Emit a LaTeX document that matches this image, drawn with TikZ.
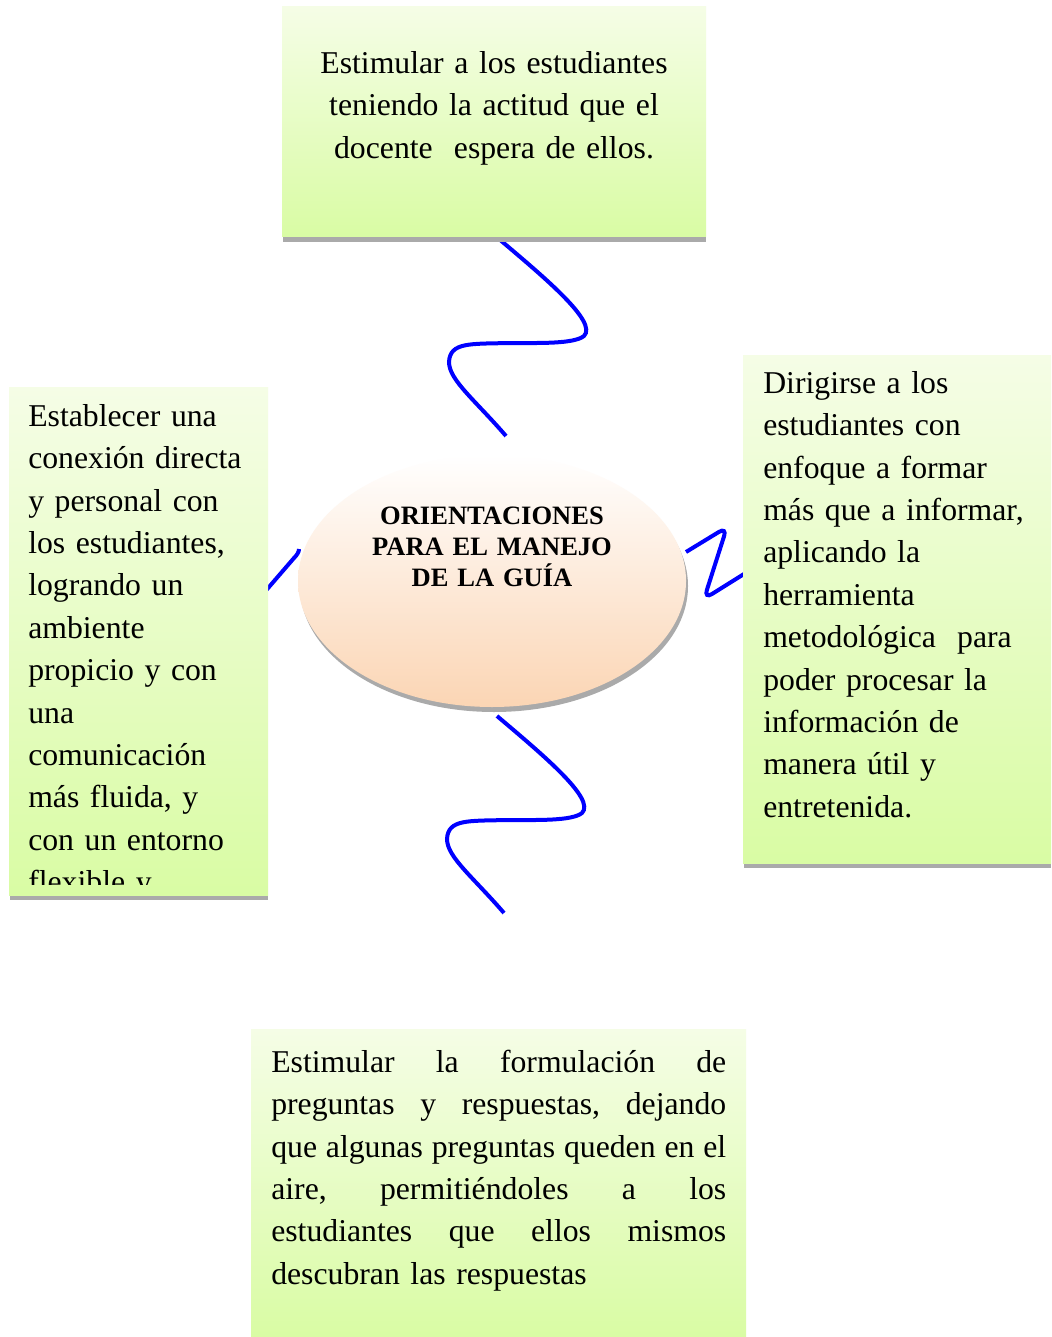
\documentclass[tikz,border=0pt]{standalone}
\usepackage{fontspec}
\setmainfont{Liberation Serif}[WordSpace=0.8]
\usetikzlibrary{shapes.geometric}
\definecolor{boxtop}{RGB}{245,253,230}
\definecolor{boxbot}{RGB}{217,252,164}
\definecolor{elltop}{RGB}{255,255,255}
\definecolor{ellbot}{RGB}{251,213,180}
\definecolor{shadowgray}{RGB}{170,170,170}
\definecolor{connblue}{RGB}{0,0,255}
\tikzset{
  greenbox/.style={rectangle, inner sep=0pt, draw=none, top color=boxtop, bottom color=boxbot},
  bodytext/.style={inner sep=0pt, font=\fontsize{23.8pt}{31.8pt}\selectfont},
  conn/.style={draw=connblue, line width=3pt},
}
\begin{document}
\begin{tikzpicture}[x=0.75pt,y=-0.75pt]
\useasboundingbox (0,0) rectangle (1051,1337);
\fill[white] (0,0) rectangle (1051,1337);

% connector end points
\coordinate (ts) at (499,239);
\coordinate (te) at (506,436);
\coordinate (bs) at (497,716);
\coordinate (be) at (504,913);
\coordinate (ls) at (299,549);
\coordinate (le) at (250,609);
\coordinate (rs) at (686,552);
\coordinate (re) at (744,574);

% connectors
\draw[conn] (ts) .. controls (545,278) and (598,322) .. (584,336)
  .. controls (574,344) and (540,343) .. (510,343)
  .. controls (470,344) and (450,342) .. (449,362)
  .. controls (449,380) and (475,400) .. (te);
\draw[conn] (bs) .. controls (543,755) and (596,799) .. (582,813)
  .. controls (572,821) and (538,820) .. (508,820)
  .. controls (468,821) and (448,819) .. (447,839)
  .. controls (447,857) and (473,877) .. (be);
\draw[conn] (ls) .. controls (299,552) and (297,555) .. (294,558) -- (le);
\draw[conn, rounded corners=7pt] (rs) -- (727,527) -- (704,599) -- (re);

% shadows
\fill[shadowgray] (283,237) rectangle (706,242);
\fill[shadowgray] (10,895) rectangle (268,900);
\fill[shadowgray] (744,863) rectangle (1051,868);
\fill[shadowgray] (494,586) ellipse [x radius=194, y radius=126];

% boxes
\node (topbox) [greenbox, minimum width=318pt, minimum height=172.5pt] at (494,122) {};
\node (leftbox) [greenbox, minimum width=194.25pt, minimum height=381pt] at (138.5,641) {};
\node (rightbox) [greenbox, minimum width=231pt, minimum height=381pt] at (897,609) {};
\node (botbox) [greenbox, minimum width=371.25pt, minimum height=231pt] at (498.5,1183) {};
\node (center) [ellipse, inner sep=0pt, draw=none, minimum width=291pt, minimum height=189pt,
  top color=elltop, bottom color=ellbot] at (492,581) {};

% texts
\node (toptxt) [bodytext, anchor=north, text width=300pt, align=center] at (494,41)
  {\rule{0pt}{24pt}Estimular a los estudiantes\\ teniendo la actitud que el\\ docente\ \ espera de ellos.};

\begin{scope}
\clip (9,387) rectangle (268,884);
\node (lefttxt) [bodytext, anchor=north west, text width=200pt, align=left] at (28,394)
  {\rule{0pt}{24pt}Establecer una\\ conexión directa\\ y personal con\\ los estudiantes,\\ logrando un\\ ambiente\\ propicio y con\\ una\\ comunicación\\ más fluida, y\\ con un entorno\\ flexible y};
\end{scope}

\node (righttxt) [bodytext, anchor=north west, text width=220pt, align=left] at (763,361)
  {\rule{0pt}{24pt}Dirigirse a los\\ estudiantes con\\ enfoque a formar\\ más que a informar,\\ aplicando la\\ herramienta\\ metodológica\ \ para\\ poder procesar la\\ información de\\ manera útil y\\ entretenida.};

\node (bottxt) [bodytext, anchor=north west, text width=341.25pt, align=left] at (271,1040)
  {\rule{0pt}{24pt}Estimular\hfill la\hfill formulación\hfill de\\
   preguntas\hfill y\hfill respuestas,\hfill dejando\\
   que\hfill algunas\hfill preguntas\hfill queden\hfill en\hfill el\\
   aire,\hfill permitiéndoles\hfill a\hfill los\\
   estudiantes\hfill que\hfill ellos\hfill mismos\\
   descubran las respuestas};

\node (centxt) [inner sep=0pt, anchor=north, text width=250pt, align=center,
  font=\fontsize{19.9pt}{23.5pt}\selectfont\bfseries] at (492,497.3)
  {\rule{0pt}{20pt}ORIENTACIONES\\ PARA EL MANEJO\\ DE LA GUÍA};
\end{tikzpicture}
\end{document}
